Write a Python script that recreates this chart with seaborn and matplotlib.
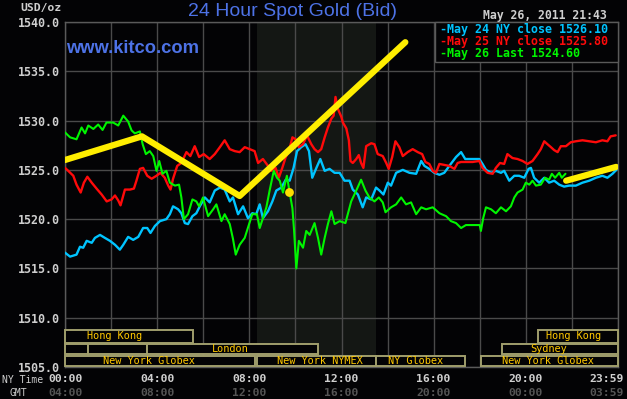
import matplotlib
matplotlib.use('Agg')
import matplotlib.pyplot as plt
import seaborn as sns
from matplotlib.patches import Rectangle

# ---------------- data ----------------
green_t = [0.0, 0.22, 0.5, 0.72, 0.87, 1.01, 1.23, 1.44, 1.63, 1.8, 2.09, 2.31, 2.53, 2.74, 2.89, 3.03,
           3.25, 3.37, 3.51, 3.68, 3.83, 3.97, 4.09, 4.23, 4.4, 4.55, 4.77, 4.95, 5.05, 5.16, 5.34, 5.53,
           5.7, 5.82, 5.99, 6.21, 6.43, 6.57, 6.79, 6.93, 7.15, 7.29, 7.41, 7.58, 7.8, 7.99, 8.13, 8.33,
           8.45, 8.59, 8.74, 8.88, 9.06, 9.2, 9.32, 9.46, 9.63, 9.75, 9.87, 9.94, 10.04, 10.15, 10.33,
           10.47, 10.62, 10.83, 10.98, 11.12, 11.27, 11.41, 11.56, 11.7, 11.92, 12.17, 12.42, 12.64,
           12.85, 13.04, 13.21, 13.43, 13.62, 13.79, 13.91, 14.15, 14.37, 14.59, 14.8, 15.02, 15.24,
           15.46, 15.67, 15.96, 16.25, 16.54, 16.75, 16.97, 17.19, 17.4, 17.69, 18.0, 18.05, 18.15,
           18.27, 18.49, 18.7, 18.92, 19.14, 19.35, 19.5, 19.64, 19.86, 20.0, 20.15, 20.29, 20.44,
           20.65, 20.84, 21.01, 21.13, 21.27, 21.45, 21.56, 21.72]
green_v = [1528.8, 1528.3, 1528.1, 1529.3, 1528.7, 1529.5, 1529.15, 1529.6, 1529.05, 1529.8, 1529.8,
           1529.5, 1530.5, 1529.9, 1529.0, 1528.7, 1528.9, 1527.6, 1526.6, 1526.9, 1526.4, 1524.9,
           1525.9, 1524.6, 1524.9, 1523.7, 1523.4, 1523.5, 1522.2, 1520.0, 1520.5, 1522.0, 1521.8,
           1521.3, 1522.2, 1520.3, 1521.0, 1521.5, 1519.8, 1520.5, 1519.5, 1518.0, 1516.4, 1517.4,
           1518.1, 1519.5, 1520.5, 1520.5, 1519.1, 1520.1, 1521.2, 1522.9, 1524.9, 1524.2, 1523.9,
           1522.7, 1524.4, 1522.7, 1521.1, 1518.9, 1515.0, 1517.8, 1517.1, 1518.8, 1518.4, 1519.6,
           1518.1, 1516.4, 1518.1, 1519.5, 1520.8, 1519.5, 1519.8, 1519.6, 1521.8, 1522.9, 1524.0,
           1522.9, 1522.2, 1521.8, 1522.2, 1521.7, 1520.7, 1521.2, 1521.5, 1522.2, 1521.5, 1521.7,
           1520.5, 1521.2, 1521.0, 1521.2, 1520.6, 1520.3, 1519.8, 1519.6, 1519.1, 1519.4, 1519.4,
           1519.4, 1518.8, 1520.1, 1521.2, 1521.0, 1520.6, 1521.2, 1520.8, 1521.3, 1522.2, 1522.7,
           1523.0, 1523.7, 1523.5, 1523.9, 1523.4, 1523.5, 1524.2, 1524.0, 1524.6, 1524.2, 1524.7,
           1524.2, 1524.6]

cyan_t = [0.0, 0.22, 0.5, 0.65, 0.79, 0.94, 1.16, 1.3, 1.52, 1.73, 1.95, 2.17, 2.38, 2.53, 2.74, 2.96,
          3.18, 3.39, 3.57, 3.71, 3.9, 4.12, 4.4, 4.55, 4.69, 4.91, 5.05, 5.2, 5.34, 5.53, 5.7, 5.85,
          6.07, 6.28, 6.5, 6.72, 6.93, 7.15, 7.29, 7.51, 7.73, 7.94, 8.13, 8.3, 8.45, 8.59, 8.81, 9.0,
          9.17, 9.39, 9.58, 9.75, 9.92, 10.07, 10.25, 10.44, 10.59, 10.73, 10.91, 11.08, 11.27, 11.48,
          11.7, 11.92, 12.13, 12.35, 12.49, 12.71, 12.92, 13.07, 13.29, 13.5, 13.65, 13.82, 14.01,
          14.15, 14.37, 14.66, 14.95, 15.24, 15.46, 15.6, 15.81, 16.03, 16.25, 16.46, 16.68, 16.97,
          17.19, 17.37, 17.69, 17.98, 18.12, 18.27, 18.49, 18.7, 18.92, 19.06, 19.28, 19.5, 19.71,
          19.93, 20.12, 20.22, 20.36, 20.58, 20.8, 21.01, 21.23, 21.45, 21.66, 21.88, 22.17, 22.46,
          22.75, 23.04, 23.32, 23.54, 23.76, 23.93]
cyan_v = [1516.6, 1516.2, 1516.4, 1517.2, 1517.1, 1517.8, 1517.6, 1518.1, 1518.4, 1518.1, 1517.8,
          1517.4, 1516.9, 1517.4, 1518.2, 1517.9, 1518.2, 1519.1, 1519.1, 1518.6, 1519.3, 1519.8,
          1520.0, 1520.5, 1521.3, 1521.0, 1520.6, 1519.6, 1519.5, 1520.3, 1520.6, 1521.3, 1522.2,
          1521.7, 1522.9, 1523.2, 1523.0, 1521.8, 1522.2, 1520.5, 1521.3, 1520.1, 1520.6, 1520.5,
          1521.5, 1520.1, 1520.8, 1521.8, 1522.9, 1523.2, 1524.0, 1523.9, 1525.2, 1526.9, 1527.3,
          1527.6, 1526.9, 1524.2, 1525.2, 1526.1, 1524.9, 1525.1, 1524.7, 1524.7, 1523.9, 1523.9,
          1523.0, 1522.5, 1521.2, 1522.2, 1522.0, 1523.2, 1522.9, 1522.5, 1523.7, 1523.4, 1524.7,
          1525.0, 1524.7, 1524.6, 1525.9, 1525.4, 1525.1, 1524.7, 1524.5, 1524.7, 1525.4, 1526.3,
          1526.8, 1526.1, 1526.1, 1526.1, 1525.6, 1525.0, 1524.7, 1524.9, 1524.7, 1524.9, 1523.9,
          1524.4, 1524.4, 1524.2, 1525.1, 1525.2, 1524.2, 1523.7, 1524.2, 1523.7, 1523.9, 1523.5,
          1523.3, 1523.4, 1523.4, 1523.7, 1523.9, 1524.2, 1524.4, 1524.2, 1524.6, 1525.0]

red_t = [0.0, 0.14, 0.36, 0.5, 0.68, 0.82, 0.97, 1.16, 1.37, 1.59, 1.81, 2.02, 2.17, 2.31, 2.41, 2.6,
         2.82, 2.99, 3.1, 3.25, 3.39, 3.57, 3.76, 3.97, 4.14, 4.33, 4.48, 4.58, 4.69, 4.87, 5.05, 5.27,
         5.44, 5.63, 5.82, 6.02, 6.28, 6.5, 6.72, 6.93, 7.15, 7.37, 7.58, 7.8, 8.02, 8.23, 8.38, 8.59,
         8.81, 8.96, 9.14, 9.28, 9.43, 9.58, 9.72, 9.87, 10.01, 10.15, 10.33, 10.5, 10.69, 10.83,
         10.98, 11.12, 11.27, 11.41, 11.56, 11.66, 11.74, 11.84, 11.99, 12.06, 12.21, 12.32, 12.39,
         12.49, 12.64, 12.75, 12.85, 12.95, 13.07, 13.29, 13.43, 13.57, 13.79, 13.94, 14.05, 14.2,
         14.34, 14.51, 14.66, 14.87, 15.09, 15.31, 15.5, 15.64, 15.81, 15.96, 16.1, 16.25, 16.46,
         16.68, 16.9, 17.04, 17.19, 17.69, 17.98, 18.12, 18.34, 18.56, 18.7, 18.88, 19.06, 19.2,
         19.42, 19.64, 19.86, 20.07, 20.29, 20.51, 20.65, 20.8, 20.94, 21.09, 21.23, 21.38, 21.52,
         21.74, 21.95, 22.17, 22.46, 22.75, 23.04, 23.32, 23.54, 23.68, 23.9]
red_v = [1525.2, 1524.9, 1524.4, 1523.5, 1522.7, 1523.7, 1524.3, 1523.7, 1523.1, 1522.5, 1521.8,
         1522.0, 1522.4, 1521.9, 1521.4, 1523.0, 1523.0, 1523.1, 1523.9, 1525.1, 1525.2, 1524.4,
         1524.1, 1524.4, 1524.7, 1524.2, 1523.4, 1523.0, 1524.1, 1525.4, 1525.7, 1526.8, 1526.4,
         1527.4, 1526.3, 1526.6, 1526.1, 1526.6, 1527.3, 1528.0, 1527.1, 1526.9, 1526.8, 1527.3,
         1527.1, 1526.9, 1525.7, 1526.1, 1525.4, 1524.9, 1525.2, 1524.2, 1525.2, 1526.3, 1526.9,
         1528.3, 1528.1, 1527.3, 1527.6, 1528.5, 1527.6, 1527.1, 1526.8, 1527.1, 1528.3, 1529.3,
         1530.2, 1530.5, 1532.4, 1531.2, 1530.4, 1529.8, 1529.2, 1528.0, 1525.9, 1525.7, 1526.1,
         1526.5, 1525.7, 1525.2, 1527.4, 1527.7, 1527.6, 1526.6, 1526.4, 1525.7, 1525.1, 1526.3,
         1527.9, 1527.3, 1526.4, 1526.8, 1527.1, 1526.8, 1526.6, 1525.8, 1525.6, 1524.9, 1524.7,
         1525.6, 1525.5, 1525.4, 1525.1, 1525.7, 1525.8, 1525.8, 1525.9, 1525.2, 1524.7, 1524.6,
         1525.2, 1525.7, 1525.6, 1526.6, 1526.2, 1526.1, 1525.9, 1525.6, 1525.9, 1526.6, 1527.1,
         1527.9, 1527.6, 1527.3, 1527.0, 1526.8, 1527.4, 1527.4, 1527.8, 1527.9, 1528.0, 1527.9,
         1527.8, 1528.0, 1527.9, 1528.4, 1528.5]

# hand-drawn yellow annotation
yellow1_t = [0.0, 3.34, 7.58, 14.77]
yellow1_v = [1526.0, 1528.4, 1522.35, 1537.95]
yellow2_t = [21.75, 23.92]
yellow2_v = [1523.9, 1525.3]
dot_t = [9.7]
dot_v = [1522.8]

legend_labels = ["-May 24 NY close 1526.10", "-May 25 NY close 1525.80", "-May 26 Last 1524.60"]
ny_ticks = ["00:00", "04:00", "08:00", "12:00", "16:00", "20:00", "23:59"]
gmt_ticks = ["04:00", "08:00", "12:00", "16:00", "20:00", "00:00", "03:59"]
tick_hours = [0, 4, 8, 12, 16, 20, 23.52]
y_ticks = [1505, 1510, 1515, 1520, 1525, 1530, 1535, 1540]

# session bars: (row, start h, end h, label, label center h)
sessions = [
    (0, 0.0, 5.55, "Hong Kong", 2.14), (0, 20.53, 23.98, "Hong Kong", 22.07),
    (1, 0.0, 1.0, "", 0), (1, 1.0, 3.54, "", 0), (1, 3.54, 10.98, "London", 7.17),
    (1, 18.98, 23.98, "Sydney", 20.98),
    (2, 0.0, 8.25, "New York Globex", 3.66), (2, 8.33, 13.5, "New York NYMEX", 11.07),
    (2, 13.5, 17.36, "NY Globex", 15.2), (2, 18.05, 23.98, "New York Globex", 20.96),
]
row_y = [(1507.45, 1508.75), (1506.3, 1507.38), (1505.08, 1506.1)]

# ---------------- style ----------------
BG = '#030305'
sns.set_theme(style='dark', rc={'axes.facecolor': BG, 'figure.facecolor': BG,
                                'axes.edgecolor': '#5a5a5a', 'grid.color': '#4a4a4a',
                                'axes.grid': True, 'axes.linewidth': 1.0})
plt.rcParams['font.family'] = ['DejaVu Sans']

W, H = 627, 399
fig = plt.figure(figsize=(W / 100, H / 100), dpi=100)
L, R, T, B = 65, 618, 22, 367
ax = fig.add_axes([L / W, 1 - B / H, (R - L) / W, (B - T) / H])
ax.set_xlim(0, 24)
ax.set_ylim(1505, 1540)

def fx(x):
    return x / W

def fy(y):
    return 1 - y / H

ax.axvspan(8.33, 13.5, color='#141714', zorder=0.1, lw=0)
ax.set_xticks(range(0, 25, 2))
ax.set_xticklabels([])
ax.set_yticks(y_ticks)
ax.set_yticklabels([f"{v:.1f}" for v in y_ticks], family='DejaVu Sans Mono',
                   weight='bold', fontsize=8.4, color='#cfcfcf')
ax.tick_params(length=0, pad=4)
ax.grid(True, color='#4a4a4a', lw=1.0)
for s in ax.spines.values():
    s.set_color('#5a5a5a')
ax.set_xlabel('')
ax.set_ylabel('')

sns.lineplot(x=cyan_t, y=cyan_v, color='#00c4ff', lw=1.7, ax=ax, estimator=None, sort=False, zorder=3)
sns.lineplot(x=red_t, y=red_v, color='#ff0a0a', lw=1.7, ax=ax, estimator=None, sort=False, zorder=3)
sns.lineplot(x=green_t, y=green_v, color='#00f500', lw=1.5, ax=ax, estimator=None, sort=False, zorder=4)
for yt, yv in [(yellow1_t, yellow1_v), (yellow2_t, yellow2_v)]:
    sns.lineplot(x=yt, y=yv, color='#ffee00', lw=4.5, ax=ax, estimator=None, sort=False,
                 zorder=5, solid_capstyle='round', solid_joinstyle='round')
sns.scatterplot(x=dot_t, y=dot_v, color='#ffdd00', s=40, ax=ax, zorder=6, linewidth=0)

# session bars
for row, s0, s1, lab, lc in sessions:
    y0, y1 = row_y[row]
    ax.add_patch(Rectangle((s0, y0), s1 - s0, y1 - y0, fc=BG, ec='#a09e6c', lw=1.4,
                           zorder=6, clip_on=False))
    if lab:
        ax.text(lc, (y0 + y1) / 2, lab, ha='center', va='center', color='#ffc800',
                family='DejaVu Sans Mono', fontsize=7.4, zorder=7)

# legend box
fig.patches.append(Rectangle((fx(435), fy(62)), (R - 435) / W, 40 / H, transform=fig.transFigure,
                             fc=BG, ec='#5a5a5a', lw=1.0, zorder=8))
for lab, col, yy in zip(legend_labels, ['#00c4ff', '#ff0a0a', '#00f500'], [29.5, 41.5, 54]):
    fig.text(fx(440), fy(yy), lab, color=col, family='DejaVu Sans Mono', weight='bold',
             fontsize=8.4, ha='left', va='center', zorder=9)

# titles and annotations
fig.text(fx(293), fy(12), "24 Hour Spot Gold (Bid)", color='#4d72e6', family='Liberation Sans',
         fontsize=14, ha='center', va='center')
fig.text(fx(66), fy(48.5), "www.kitco.com", color='#4d72e6', family='Liberation Sans',
         weight='bold', fontsize=13.2, ha='left', va='center')
fig.text(fx(20), fy(8), "USD/oz", color='#cfcfcf', family='DejaVu Sans Mono', weight='bold',
         fontsize=8.2, ha='left', va='center')
fig.text(fx(607), fy(15), "May 26, 2011 21:43", color='#cfcfcf', family='DejaVu Sans Mono',
         weight='bold', fontsize=8.3, ha='right', va='center')

# bottom time labels
pxh = (R - L) / 24
for h, a, g in zip(tick_hours, ny_ticks, gmt_ticks):
    xc = L + h * pxh
    if h == 0:
        xc = 66
    fig.text(fx(xc), fy(379), a, color='#d0d0d0', family='DejaVu Sans Mono', weight='bold',
             fontsize=8.2, ha='center', va='center')
    fig.text(fx(xc), fy(393.5), g, color='#555555', family='DejaVu Sans Mono', weight='bold',
             fontsize=8.2, ha='center', va='center')
fig.text(fx(2), fy(380), "NY Time", color='#cfcfcf', family='DejaVu Sans Mono',
         fontsize=7.0, ha='left', va='center')
fig.text(fx(9), fy(393), "GMT", color='#cfcfcf', family='DejaVu Sans Mono',
         fontsize=7.0, ha='left', va='center')

fig.savefig('out.png', dpi=100, facecolor=BG)
